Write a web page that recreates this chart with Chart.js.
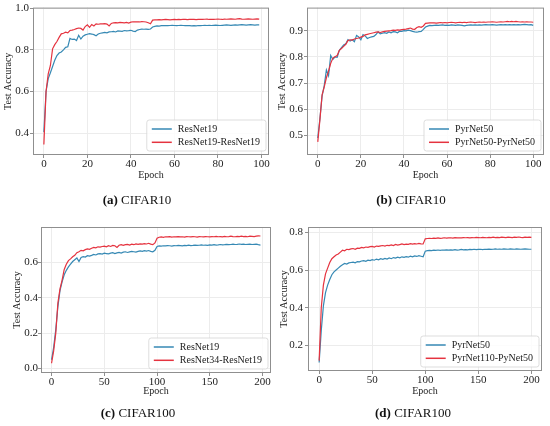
<!DOCTYPE html>
<html>
  <head>
    <script src="https://cdn.jsdelivr.net/npm/chart.js@4.4.0/dist/chart.umd.min.js"></script>
    <style>
      body { margin: 0; background: #fff; }
      #page { position: relative; width: 550px; height: 426px; font-family: 'Liberation Serif', serif; }
      #page canvas { position: absolute; }
      .cap { position: absolute; font-size: 13px; color: #111; transform: translate(-50%, -50%); white-space: nowrap; }
    </style>
  </head>

  <body>
    <div id="page">
      <canvas id="ca" width="275" height="200" style="left:0;top:0"></canvas>
      <canvas id="cb" width="275" height="200" style="left:275px;top:0"></canvas>
      <canvas id="cc" width="275" height="200" style="left:0;top:213px"></canvas>
      <canvas id="cd" width="275" height="200" style="left:275px;top:213px"></canvas>
      <div class="cap" style="left:137px;top:200px"><b>(a)</b> CIFAR10</div>
      <div class="cap" style="left:411px;top:200px"><b>(b)</b> CIFAR10</div>
      <div class="cap" style="left:138px;top:413px"><b>(c)</b> CIFAR100</div>
      <div class="cap" style="left:413px;top:413px"><b>(d)</b> CIFAR100</div>
    </div>
    <script>
      // epoch index helper (x positions only)
      const range = (a, b, s) => { const r = []; for (let i = a; i <= b; i += s) r.push(i); return r; };

      const epochsA = range(0, 99, 1);
      const epochsB = range(0, 100, 1);
      const epochsC = range(0, 198, 2);
      const epochsD = range(0, 200, 2);

      const xTicks10 = [0, 20, 40, 60, 80, 100];
      const xTicks100 = [0, 50, 100, 150, 200];
      const yTicksA = [0.4, 0.6, 0.8, 1.0];
      const yTicksB = [0.5, 0.6, 0.7, 0.8, 0.9];
      const yTicksC = [0.0, 0.2, 0.4, 0.6];
      const yTicksD = [0.2, 0.4, 0.6, 0.8];

      const resnet19A = [0.405,0.600,0.662,0.690,0.720,0.750,0.773,0.785,0.790,0.800,
        0.812,0.815,0.855,0.850,0.852,0.845,0.870,0.852,0.866,0.872,
        0.875,0.878,0.876,0.873,0.868,0.876,0.880,0.882,0.884,0.882,
        0.886,0.887,0.889,0.886,0.891,0.890,0.889,0.893,0.891,0.892,
        0.894,0.890,0.888,0.895,0.898,0.900,0.899,0.900,0.898,0.900,
        0.910,0.913,0.915,0.914,0.916,0.916,0.917,0.916,0.917,0.918,
        0.917,0.916,0.917,0.918,0.917,0.916,0.917,0.916,0.915,0.916,
        0.915,0.917,0.916,0.917,0.918,0.917,0.918,0.917,0.918,0.919,
        0.918,0.917,0.918,0.919,0.920,0.919,0.918,0.919,0.920,0.919,
        0.920,0.921,0.920,0.919,0.920,0.921,0.920,0.919,0.920,0.920];
      const resnet19x2A = [0.345,0.600,0.685,0.725,0.805,0.825,0.840,0.860,0.877,0.880,
        0.885,0.882,0.893,0.895,0.898,0.902,0.905,0.903,0.895,0.912,
        0.920,0.908,0.922,0.915,0.925,0.923,0.925,0.925,0.926,0.924,
        0.915,0.927,0.930,0.931,0.930,0.932,0.931,0.930,0.932,0.929,
        0.933,0.935,0.934,0.935,0.934,0.936,0.935,0.934,0.930,0.925,
        0.943,0.944,0.944,0.945,0.944,0.945,0.946,0.945,0.944,0.945,
        0.946,0.945,0.946,0.945,0.947,0.946,0.945,0.946,0.947,0.946,
        0.945,0.946,0.947,0.946,0.947,0.948,0.946,0.947,0.946,0.947,
        0.948,0.947,0.946,0.948,0.947,0.948,0.949,0.948,0.947,0.949,
        0.950,0.948,0.947,0.948,0.949,0.948,0.947,0.948,0.949,0.948];

      const pyrnet50B = [0.490,0.565,0.650,0.690,0.750,0.728,0.805,0.790,0.800,0.798,
        0.825,0.835,0.845,0.850,0.866,0.860,0.865,0.858,0.882,0.876,
        0.865,0.885,0.880,0.870,0.874,0.876,0.878,0.885,0.895,0.888,
        0.890,0.892,0.890,0.895,0.892,0.896,0.895,0.892,0.898,0.897,
        0.900,0.899,0.902,0.900,0.897,0.895,0.894,0.896,0.897,0.905,
        0.914,0.917,0.920,0.919,0.920,0.921,0.920,0.921,0.922,0.920,
        0.921,0.920,0.922,0.921,0.920,0.922,0.921,0.920,0.918,0.920,
        0.921,0.922,0.921,0.922,0.921,0.922,0.921,0.922,0.923,0.922,
        0.922,0.923,0.922,0.921,0.922,0.923,0.922,0.923,0.922,0.923,
        0.922,0.923,0.922,0.923,0.922,0.923,0.924,0.923,0.922,0.923,
        0.920];
      const pyrnet50x2B = [0.475,0.560,0.655,0.685,0.720,0.745,0.775,0.795,0.800,0.805,
        0.825,0.832,0.840,0.848,0.862,0.865,0.864,0.868,0.870,0.872,
        0.875,0.878,0.884,0.886,0.888,0.890,0.892,0.894,0.895,0.893,
        0.895,0.897,0.898,0.899,0.900,0.902,0.901,0.903,0.902,0.904,
        0.905,0.906,0.908,0.910,0.906,0.905,0.912,0.915,0.913,0.918,
        0.928,0.929,0.930,0.930,0.930,0.929,0.930,0.931,0.930,0.931,
        0.930,0.931,0.932,0.931,0.930,0.931,0.932,0.931,0.932,0.931,
        0.932,0.933,0.932,0.931,0.932,0.933,0.932,0.933,0.932,0.933,
        0.933,0.934,0.933,0.932,0.933,0.934,0.933,0.934,0.935,0.934,
        0.935,0.934,0.935,0.934,0.933,0.934,0.933,0.934,0.933,0.933,
        0.932];

      const resnet19C = [0.050,0.120,0.220,0.350,0.440,0.490,0.530,0.555,0.575,0.590,
        0.605,0.615,0.625,0.605,0.628,0.632,0.630,0.638,0.636,0.640,
        0.645,0.642,0.648,0.650,0.647,0.652,0.650,0.648,0.652,0.655,
        0.650,0.654,0.656,0.653,0.658,0.660,0.656,0.659,0.662,0.660,
        0.658,0.662,0.665,0.662,0.666,0.664,0.667,0.662,0.660,0.668,
        0.690,0.693,0.692,0.694,0.693,0.695,0.694,0.692,0.695,0.694,
        0.696,0.695,0.693,0.696,0.695,0.697,0.695,0.696,0.698,0.696,
        0.697,0.699,0.697,0.698,0.696,0.699,0.698,0.700,0.698,0.699,
        0.701,0.699,0.700,0.702,0.700,0.701,0.703,0.701,0.702,0.704,
        0.702,0.703,0.701,0.702,0.703,0.701,0.702,0.703,0.700,0.698];
      const resnet34C = [0.030,0.100,0.200,0.370,0.450,0.500,0.560,0.590,0.610,0.620,
        0.632,0.640,0.655,0.660,0.668,0.665,0.672,0.676,0.674,0.680,
        0.685,0.682,0.688,0.686,0.690,0.692,0.688,0.694,0.690,0.696,
        0.694,0.684,0.697,0.700,0.696,0.700,0.702,0.698,0.703,0.700,
        0.704,0.702,0.705,0.703,0.706,0.704,0.708,0.703,0.700,0.710,
        0.737,0.742,0.744,0.742,0.745,0.744,0.746,0.743,0.745,0.744,
        0.746,0.744,0.745,0.743,0.746,0.745,0.744,0.746,0.745,0.743,
        0.746,0.745,0.744,0.746,0.745,0.744,0.746,0.745,0.747,0.745,
        0.746,0.744,0.747,0.745,0.746,0.748,0.746,0.745,0.747,0.746,
        0.748,0.746,0.747,0.745,0.748,0.747,0.746,0.748,0.750,0.749];

      const pyrnet50D = [0.110,0.280,0.410,0.480,0.520,0.550,0.575,0.590,0.600,0.610,
        0.620,0.628,0.635,0.632,0.638,0.640,0.642,0.638,0.645,0.643,
        0.648,0.650,0.646,0.652,0.650,0.655,0.652,0.658,0.654,0.660,
        0.657,0.662,0.658,0.664,0.660,0.666,0.663,0.668,0.665,0.670,
        0.667,0.671,0.668,0.673,0.670,0.675,0.672,0.676,0.673,0.670,
        0.700,0.703,0.704,0.703,0.705,0.704,0.706,0.704,0.706,0.705,
        0.707,0.705,0.707,0.706,0.708,0.706,0.707,0.709,0.707,0.708,
        0.707,0.709,0.708,0.710,0.708,0.709,0.710,0.708,0.710,0.709,
        0.711,0.709,0.710,0.712,0.710,0.711,0.710,0.712,0.711,0.710,
        0.712,0.711,0.710,0.712,0.711,0.710,0.711,0.712,0.711,0.710,
        0.710];
      const pyrnet110D = [0.120,0.400,0.520,0.580,0.610,0.640,0.660,0.670,0.680,0.685,
        0.695,0.705,0.702,0.710,0.708,0.712,0.714,0.710,0.716,0.715,
        0.720,0.718,0.722,0.720,0.724,0.725,0.722,0.727,0.725,0.728,
        0.730,0.727,0.731,0.729,0.733,0.730,0.736,0.732,0.735,0.738,
        0.735,0.737,0.736,0.740,0.737,0.740,0.738,0.741,0.739,0.738,
        0.765,0.767,0.768,0.767,0.769,0.768,0.770,0.768,0.769,0.771,
        0.769,0.770,0.771,0.769,0.772,0.770,0.771,0.770,0.772,0.771,
        0.772,0.770,0.772,0.771,0.773,0.772,0.771,0.773,0.772,0.771,
        0.773,0.772,0.774,0.772,0.773,0.772,0.774,0.773,0.772,0.774,
        0.773,0.772,0.774,0.773,0.775,0.773,0.772,0.774,0.773,0.774,
        0.773];

      const BLUE = '#3689b4';
      const RED = '#e5333f';
      const FONT = { family: "'Liberation Serif', serif", size: 10 };
      const TICK_FONT = { family: "'Liberation Serif', serif", size: 11 };
      const INK = '#222';
      const TICK_LEN = 3;

      // matplotlib-like frame + legend box in the lower right corner
      const framePlugin = {
        id: 'frame',
        afterDraw(chart) {
          const { ctx, chartArea: a } = chart;
          ctx.save();
          ctx.strokeStyle = '#8f8f8f';
          ctx.lineWidth = 1;
          ctx.strokeRect(a.left + 0.5, a.top + 0.5, a.right - a.left - 1, a.bottom - a.top - 1);

          const ds = chart.data.datasets;
          ctx.font = "10px 'Liberation Serif'";
          const tw = Math.max(...ds.map((d) => ctx.measureText(d.label).width));
          const w = tw + 37, h = 31;
          const x = a.right - 3 - w, y = a.bottom - 4 - h;
          ctx.fillStyle = 'rgba(255,255,255,0.85)';
          ctx.strokeStyle = '#d4d4d4';
          ctx.lineWidth = 0.8;
          ctx.beginPath();
          ctx.roundRect(x, y, w, h, 2.5);
          ctx.fill();
          ctx.stroke();
          ds.forEach((d, i) => {
            const cy = y + 9 + i * 13.3;
            ctx.strokeStyle = d.borderColor;
            ctx.lineWidth = 1.5;
            ctx.beginPath();
            ctx.moveTo(x + 5, cy);
            ctx.lineTo(x + 25, cy);
            ctx.stroke();
            ctx.fillStyle = INK;
            ctx.textBaseline = 'middle';
            ctx.fillText(d.label, x + 31, cy);
          });
          ctx.restore();
        },
      };

      function panel(id, lay, xr, yr, xTicks, yTicks, series) {
        const H = 200;
        const xh = lay.xTitle + 10 - lay.b;
        const grid = { color: '#ececec', drawTicks: true, tickLength: TICK_LEN, tickColor: '#8f8f8f' };
        return new Chart(document.getElementById(id), {
          type: 'line',
          data: {
            datasets: series.map((s, i) => ({
              label: s.label,
              data: s.x.map((e, k) => ({ x: e, y: s.y[k] })),
              borderColor: s.color,
              borderWidth: 1.2,
              pointRadius: 0,
              fill: false,
              tension: 0,
              order: series.length - i,
            })),
          },
          options: {
            responsive: false,
            animation: false,
            layout: {
              padding: { left: 0, top: lay.t, right: 275 - lay.r, bottom: H - lay.b - xh },
            },
            plugins: { legend: { display: false }, tooltip: { enabled: false } },
            scales: {
              x: {
                type: 'linear',
                min: xr[0],
                max: xr[1],
                afterBuildTicks: (s) => { s.ticks = xTicks.map((v) => ({ value: v })); },
                afterFit: (s) => { s.height = xh; },
                grid,
                border: { display: false },
                ticks: {
                  padding: Math.max(0, lay.xLab - 6.5 - lay.b - TICK_LEN),
                  font: TICK_FONT, color: INK, maxRotation: 0, autoSkip: false,
                  callback: (v) => String(v),
                },
                title: { display: true, text: 'Epoch', font: FONT, color: INK, padding: 4 },
              },
              y: {
                min: yr[0],
                max: yr[1],
                afterBuildTicks: (s) => { s.ticks = yTicks.map((v) => ({ value: v })); },
                afterFit: (s) => { s.width = lay.l; },
                grid,
                border: { display: false },
                ticks: {
                  padding: lay.l - lay.yLab - TICK_LEN,
                  font: TICK_FONT, color: INK,
                  callback: (v) => v.toFixed(1),
                },
                title: { display: true, text: 'Test Accuracy', font: FONT, color: INK, padding: lay.yTitle - 6 },
              },
            },
          },
          plugins: [framePlugin],
        });
      }

      panel('ca', { l: 33, t: 7, r: 269, b: 155, yTitle: 8, yLab: 29, xLab: 164, xTitle: 175 },
        [-5, 103.5], [0.295, 1.003], xTicks10, yTicksA, [
          { label: 'ResNet19', color: BLUE, x: epochsA, y: resnet19A },
          { label: 'ResNet19-ResNet19', color: RED, x: epochsA, y: resnet19x2A },
        ]);
      panel('cb', { l: 32, t: 7, r: 269, b: 155, yTitle: 7, yLab: 28, xLab: 164, xTitle: 175 },
        [-5, 105], [0.425, 0.988], xTicks10, yTicksB, [
          { label: 'PyrNet50', color: BLUE, x: epochsB, y: pyrnet50B },
          { label: 'PyrNet50-PyrNet50', color: RED, x: epochsB, y: pyrnet50x2B },
        ]);
      panel('cc', { l: 41, t: 14, r: 271, b: 160, yTitle: 17, yLab: 38, xLab: 167, xTitle: 178.5 },
        [-10, 208], [-0.025, 0.80], xTicks100, yTicksC, [
          { label: 'ResNet19', color: BLUE, x: epochsC, y: resnet19C },
          { label: 'ResNet34-ResNet19', color: RED, x: epochsC, y: resnet34C },
        ]);
      panel('cd', { l: 33, t: 14, r: 267, b: 158, yTitle: 9, yLab: 28, xLab: 166, xTitle: 178 },
        [-10.5, 210], [0.065, 0.828], xTicks100, yTicksD, [
          { label: 'PyrNet50', color: BLUE, x: epochsD, y: pyrnet50D },
          { label: 'PyrNet110-PyNet50', color: RED, x: epochsD, y: pyrnet110D },
        ]);
    </script>
  </body>
</html>
